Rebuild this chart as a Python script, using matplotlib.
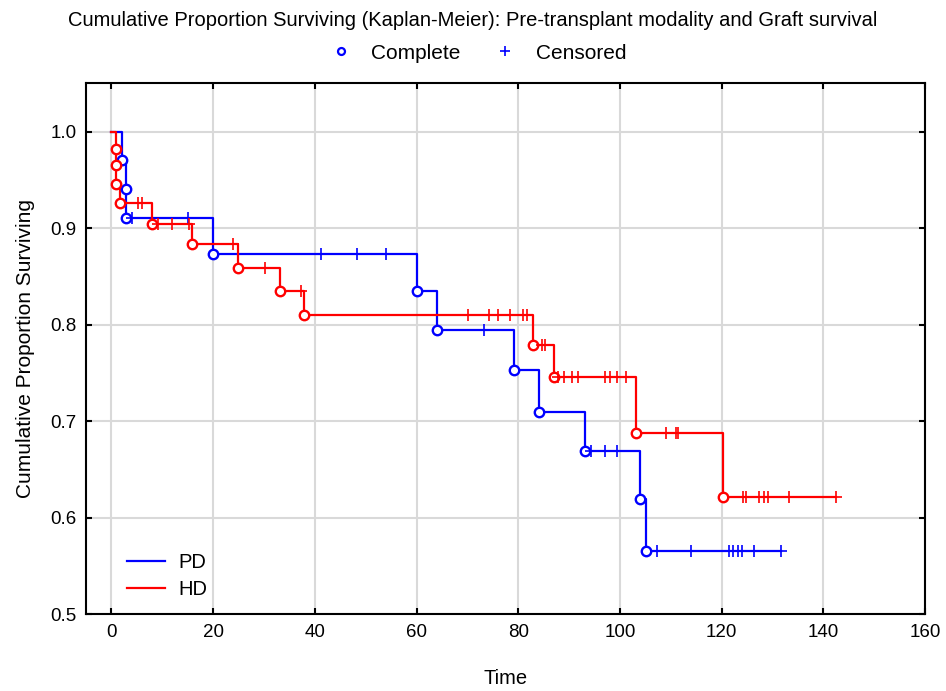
import numpy as np
import matplotlib
matplotlib.use("Agg")
import matplotlib.pyplot as plt
from matplotlib.lines import Line2D

plt.rcParams['font.family'] = ['Liberation Sans', 'DejaVu Sans']

# ---- data ----
pd_event_times = [2.1, 2.9, 2.9, 20.0, 60.0, 64.1, 79.1, 84.1, 93.2, 104.0, 105.2]
pd_event_surv = [0.971, 0.941, 0.910, 0.873, 0.835, 0.794, 0.753, 0.710, 0.669, 0.619, 0.566]
pd_censor_times = [4.1, 15.1, 41.2, 48.3, 54.0, 73.3, 94.3, 97.1, 99.4, 107.3, 114.0,
                   121.4, 122.3, 123.2, 124.0, 126.4, 131.6]

hd_event_times = [0.85, 0.85, 0.85, 1.6, 8.0, 15.9, 24.9, 33.1, 37.9, 83.0, 87.1, 103.1, 120.2]
hd_event_surv = [0.982, 0.965, 0.946, 0.926, 0.904, 0.8835, 0.859, 0.835, 0.810, 0.779,
                 0.746, 0.688, 0.621]
hd_censor_times = [5.2, 6.0, 9.2, 11.9, 15.3, 23.9, 30.3, 37.3, 70.1, 74.3, 76.1, 78.3,
                   81.0, 81.8, 84.6, 85.3, 87.9, 89.1, 90.5, 91.8, 97.1, 98.1, 99.4, 101.2,
                   109.1, 111.0, 111.5, 124.2, 124.8, 127.4, 128.3, 129.1, 133.3, 142.4]

groups = ["PD", "HD"]
colors = {"PD": "#0000FF", "HD": "#FF0000"}

x_ticks = [0, 20, 40, 60, 80, 100, 120, 140, 160]
y_ticks = [0.5, 0.6, 0.7, 0.8, 0.9, 1.0]

title = "Cumulative Proportion Surviving (Kaplan-Meier): Pre-transplant modality and Graft survival"

fig = plt.figure(figsize=(9.46, 6.91), dpi=100)
ax = fig.add_axes([0.0909, 0.111, 0.8869, 0.7684])


def draw(name, ev_t, ev_s, cen_t):
    c = colors[name]
    ev_t = np.asarray(ev_t)
    ev_s = np.asarray(ev_s)
    end = max(max(cen_t), ev_t.max())
    t = np.concatenate([[0.0], ev_t, [end]])
    s = np.concatenate([[1.0], ev_s, [ev_s[-1]]])
    ax.step(t, s, where='post', color=c, lw=1.6, zorder=3, label=name)
    ax.plot(ev_t, ev_s, 'o', ms=6.8, mfc='white', mec=c, mew=1.7, zorder=4, linestyle='none')
    cen_t = np.asarray(cen_t)
    idx = np.searchsorted(ev_t, cen_t, side='right')
    cen_s = np.where(idx == 0, 1.0, ev_s[np.maximum(idx - 1, 0)])
    ax.plot(cen_t, cen_s, '+', ms=8, mec=c, mew=1.2, zorder=4, linestyle='none')


draw("PD", pd_event_times, pd_event_surv, pd_censor_times)
draw("HD", hd_event_times, hd_event_surv, hd_censor_times)

ax.set_xlim(-5, 160)
ax.set_ylim(0.5, 1.05)
ax.set_xticks(x_ticks)
ax.set_yticks(y_ticks)
ax.set_yticklabels([f"{v:.1f}" for v in y_ticks])
ax.grid(True, color='#d9d9d9', lw=1.5, zorder=0)
ax.set_axisbelow(True)
ax.tick_params(direction='in', length=4, width=1.5, labelsize=13.5, top=True, right=True,
               pad=7)
for sp in ax.spines.values():
    sp.set_linewidth(1.5)

ax.set_xlabel("Time", fontsize=14.5, labelpad=20)
ax.set_ylabel("Cumulative Proportion Surviving", fontsize=15, labelpad=11)

ax.legend(loc='lower left', frameon=False, fontsize=14.5, handlelength=1.9,
          bbox_to_anchor=(0.027, -0.005), handletextpad=0.65, labelspacing=0.4)

fig.text(0.5, 0.971, title, ha='center', va='center', fontsize=14.5)
handles = [Line2D([], [], marker='o', ms=5, mfc='white', mec='#0000FF', mew=1.6, ls='none'),
           Line2D([], [], marker='+', ms=7, mec='#0000FF', mew=1.2, ls='none')]
fig.legend(handles, ["Complete", "Censored"], loc='center', bbox_to_anchor=(0.503, 0.923),
           ncol=2, frameon=False, fontsize=15, handletextpad=0.7, columnspacing=1.4,
           handlelength=1.5)

fig.savefig("out.png", dpi=100)
